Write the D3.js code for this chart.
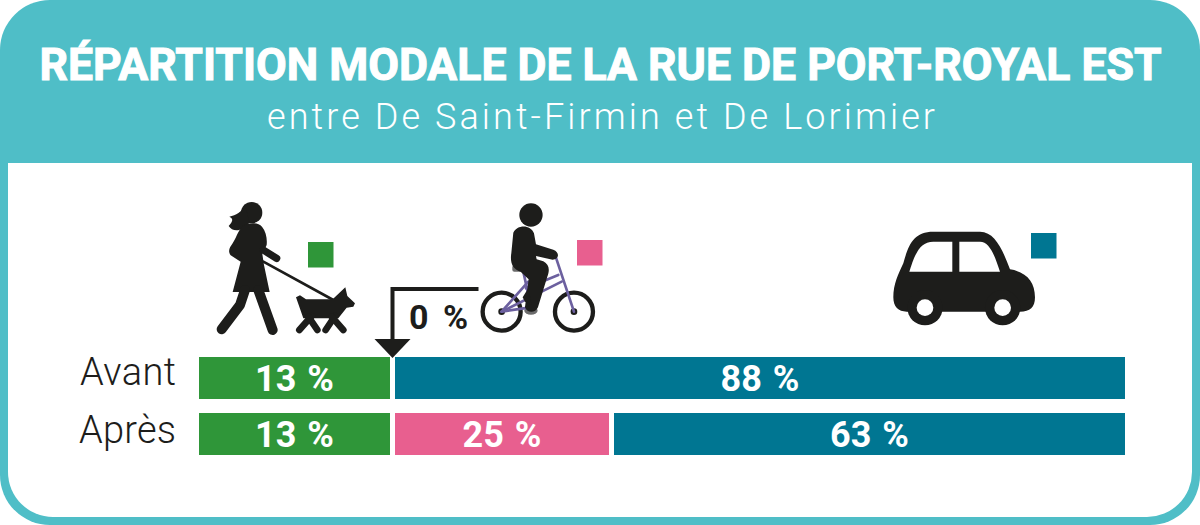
<!DOCTYPE html>
<html lang="fr"><head><meta charset="utf-8">
<script src="https://cdn.jsdelivr.net/npm/d3@7/dist/d3.min.js"></script>
<style>html,body{margin:0;padding:0;background:#fff}svg{display:block}text{font-family:Roboto,sans-serif}</style>
</head><body><div id="chart"></div>
<script>
const titleText = "RÉPARTITION MODALE DE LA RUE DE PORT-ROYAL EST";
const subtitleText = "entre De Saint-Firmin et De Lorimier";
const rows = ["Avant", "Après"];
const modes = ["Marche", "Vélo", "Auto"];
const avantValues = [13, 0, 88];
const apresValues = [13, 25, 63];
const modeColors = ["#2f9639", "#e85f8f", "#007692"];
const valuesByRow = [avantValues, apresValues];

const W = 1200, H = 525, INK = "#1d1d1b", HEAD = "#4fbec7", PURPLE = "#6c609f", GAP = 2.5;
const svg = d3.select("#chart").append("svg").attr("width", W).attr("height", H);

/* frame */
svg.append("rect").attr("width", W).attr("height", H).attr("fill", "#fff");
svg.append("rect").attr("width", W).attr("height", H).attr("rx", 50).attr("fill", HEAD);
svg.append("path").attr("fill", "#fff")
  .attr("d", "M8,163H1192V472A45,45 0 0 1 1147,517H53A45,45 0 0 1 8,472Z");

/* titles */
svg.append("text").text(titleText).attr("x", 600.5).attr("y", 80).attr("text-anchor", "middle")
  .attr("fill", "#fff").attr("stroke", "#fff").attr("stroke-width", 1).attr("font-weight", 700).attr("font-size", 44)
  .attr("textLength", 1122).attr("lengthAdjust", "spacingAndGlyphs");
svg.append("text").text(subtitleText).attr("x", 601).attr("y", 129).attr("text-anchor", "middle")
  .attr("fill", "#fff").attr("font-weight", 300).attr("font-size", 36)
  .attr("textLength", 668).attr("lengthAdjust", "spacing");

/* scales: the source bars are not drawn to scale, so the value axis is piecewise */
const x = d3.scaleLinear().domain([0, 13, 38, 101]).range([196.5, 392.5, 611.5, 1127.5]);
const y = d3.scaleBand().domain(rows).range([357, 455]).paddingInner(0.25);
const color = d3.scaleOrdinal().domain(modes).range(modeColors);

const segments = rows.map((row, i) => {
  let c = 0;
  return modes.map((mode, j) => {
    const v = valuesByRow[i][j], s = { row, mode, v, c0: c, c1: c + v };
    c += v;
    return s;
  });
});

const rowG = svg.selectAll("g.row").data(segments).join("g").attr("class", "row");
rowG.selectAll("rect").data(d => d.filter(s => s.v > 0)).join("rect")
  .attr("x", d => x(d.c0) + GAP).attr("y", d => y(d.row))
  .attr("width", d => x(d.c1) - x(d.c0) - 2 * GAP).attr("height", y.bandwidth())
  .attr("fill", d => color(d.mode));
rowG.selectAll("text").data(d => d.filter(s => s.v > 0)).join("text")
  .text(d => d.v + " %")
  .attr("x", d => (x(d.c0) + x(d.c1)) / 2).attr("y", d => y(d.row) + 34)
  .attr("text-anchor", "middle").attr("fill", "#fff").attr("font-weight", 700).attr("font-size", 36)
  .attr("word-spacing", 2);

svg.selectAll("text.rowlabel").data(rows).join("text").attr("class", "rowlabel")
  .text(d => d).attr("x", 176).attr("y", (d, i) => y(d) + 28 + i * 2).attr("text-anchor", "end")
  .attr("fill", INK).attr("font-weight", 300).attr("font-size", 38)
  .attr("textLength", (d, i) => i ? 97 : 96).attr("lengthAdjust", "spacing");

/* 0 % callout on the Avant row */
const ax = x(avantValues[0]);
const callout = svg.append("g");
callout.append("path").attr("fill", "none").attr("stroke", INK).attr("stroke-width", 4)
  .attr("d", `M${ax + 86},289H${ax}V342`);
callout.append("path").attr("fill", INK).attr("d", `M${ax - 18},339H${ax + 18}L${ax},358Z`);
callout.append("text").text(avantValues[1] + " %").attr("x", 409).attr("y", 329)
  .attr("fill", INK).attr("font-weight", 700).attr("font-size", 34).attr("word-spacing", 6);

/* legend squares */
const squares = [[308, 242], [577, 240], [1031, 233]];
svg.selectAll("rect.key").data(modes).join("rect").attr("class", "key")
  .attr("x", (d, i) => squares[i][0]).attr("y", (d, i) => squares[i][1])
  .attr("width", 25.5).attr("height", 25.5).attr("fill", d => color(d));

/* pictograms, traced at 3x */
const walk = svg.append("g").attr("transform", "translate(200,190) scale(0.3333)").attr("fill", INK);
walk.append("circle").attr("cx", 155).attr("cy", 68).attr("r", 32);
walk.append("path").attr("d", "M135,42C125,68 108,76 88,80C100,86 100,92 86,108C98,128 130,124 148,98Z");
walk.append("path").attr("d", "M128,108C148,96 175,98 186,110C198,124 202,145 200,165L187,192L192,225L209,306L98,306L122,215L92,196C82,182 90,172 98,160C108,145 114,122 128,108Z");
const strokeLine = (g, pts, w, col) => g.append("path").attr("d", d3.line()(pts)).attr("fill", "none")
  .attr("stroke", col || INK).attr("stroke-width", w).attr("stroke-linecap", "round").attr("stroke-linejoin", "round");
strokeLine(walk, [[190, 180], [230, 205]], 22);
strokeLine(walk, [[135, 300], [120, 345], [65, 418]], 30);
strokeLine(walk, [[175, 300], [218, 420]], 30);
strokeLine(walk, [[190, 215], [400, 330]], 8);
walk.append("path").attr("d", "M288,322L300,316L318,328L398,328L436,292L442,318L465,340L460,350L440,353L415,385L310,385Z");
strokeLine(walk, [[335, 378], [298, 420]], 20);
strokeLine(walk, [[325, 380], [352, 420]], 20);
strokeLine(walk, [[405, 378], [377, 420]], 20);
strokeLine(walk, [[395, 380], [430, 420]], 20);

const bike = svg.append("g").attr("transform", "translate(200,190) scale(0.3333)");
[[905, 365], [1122, 365]].forEach(c => {
  bike.append("circle").attr("cx", c[0]).attr("cy", c[1]).attr("r", 57).attr("fill", "none").attr("stroke", INK).attr("stroke-width", 13);
  bike.append("circle").attr("cx", c[0]).attr("cy", c[1]).attr("r", 10).attr("fill", INK);
});
bike.append("ellipse").attr("cx", 993).attr("cy", 362).attr("rx", 20).attr("ry", 12).attr("fill", "#6b6b6b");
bike.append("rect").attr("x", 937).attr("y", 225).attr("width", 40).attr("height", 20).attr("rx", 6).attr("fill", "#6b6b6b");
[[[1067, 200], [1122, 365]], [[1075, 255], [978, 295]], [[1085, 275], [905, 365]], [[970, 245], [992, 345]],
 [[905, 365], [992, 352]], [[905, 365], [985, 275]]].forEach(l => strokeLine(bike, l, 8, PURPLE));
bike.append("circle").attr("cx", 993).attr("cy", 75).attr("r", 35).attr("fill", INK);
bike.append("path").attr("fill", INK).attr("d", "M940,128C952,103 992,103 1002,130L1008,163L1060,179C1080,187 1078,208 1058,209L1008,198L1010,208L1030,214C1048,224 1050,240 1042,260L1014,352C1006,370 982,370 975,352L986,268L962,245C936,238 930,215 934,190Z");
bike.append("path").attr("fill", INK).attr("d", "M968,322L985,295L995,345L975,335Z");

const car = svg.append("g").attr("transform", "translate(870,210) scale(0.3333)");
car.append("path").attr("fill", INK).attr("d", "M70,262C70,222 85,192 100,160C115,105 130,65 190,65L330,65C375,65 398,120 420,178C470,186 495,215 495,262C495,292 480,305 450,305L110,305C85,305 70,290 70,262Z");
car.append("path").attr("fill", "#fff").attr("d", "M118,185C135,130 150,95 190,95L247,95L247,185Z");
car.append("path").attr("fill", "#fff").attr("d", "M268,95L330,95C360,95 375,140 390,185L268,185Z");
[165, 398].forEach(cx => {
  car.append("circle").attr("cx", cx).attr("cy", 293).attr("r", 53).attr("fill", INK);
  car.append("circle").attr("cx", cx).attr("cy", 293).attr("r", 25).attr("fill", "#fff");
});
</script></body></html>
